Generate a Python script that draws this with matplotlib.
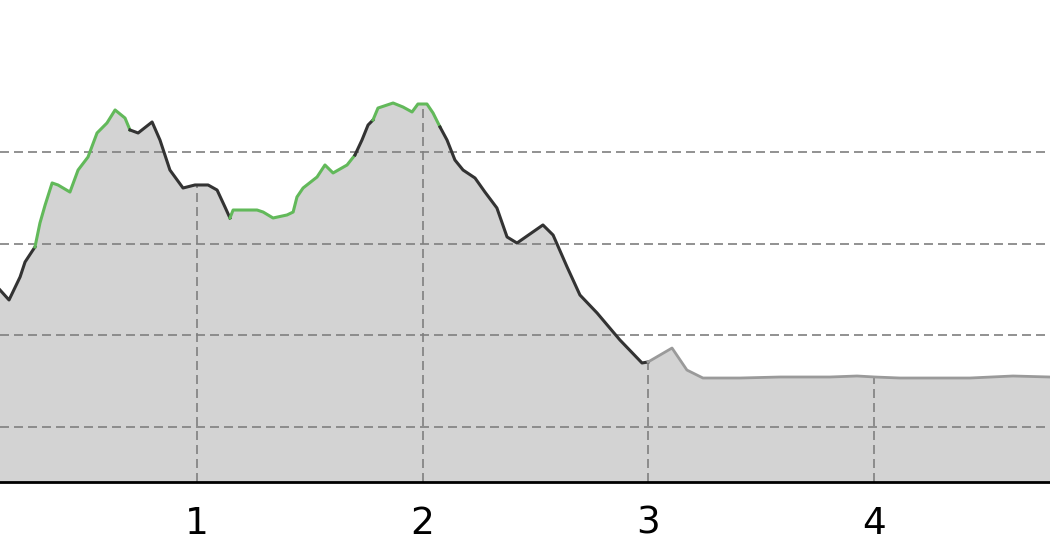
"""
Elevation profile: distance vs elevation, line coloured by segment type.
"""

import numpy as np
import matplotlib
matplotlib.use("Agg")
import matplotlib.pyplot as plt

# ── Data ──────────────────────────────────────────────────────────────────────

dist = [0.127, 0.167, 0.216, 0.238, 0.273, 0.282, 0.304, 0.327, 0.358, 0.384,
        0.437, 0.473, 0.517, 0.557, 0.601, 0.637, 0.681, 0.703, 0.739, 0.801,
        0.836, 0.880, 0.938, 0.991, 1.049, 1.089, 1.124, 1.146, 1.160, 1.266,
        1.293, 1.337, 1.399, 1.426, 1.443, 1.470, 1.532, 1.567, 1.603, 1.665,
        1.700, 1.731, 1.758, 1.780, 1.802, 1.869, 1.913, 1.953, 1.979, 2.019,
        2.046, 2.077, 2.108, 2.143, 2.179, 2.232, 2.276, 2.329, 2.374, 2.418,
        2.533, 2.578, 2.640, 2.697, 2.773, 2.874, 2.972, 2.999, 3.105, 3.171,
        3.242, 3.406, 3.584, 3.805, 3.925, 4.004, 4.115, 4.425, 4.616, 4.780]

elev = [349.4, 338.5, 363.6, 379.9, 393.0, 396.3, 422.4, 442.1, 466.1, 463.9,
        456.2, 480.2, 494.4, 520.6, 531.5, 545.7, 536.9, 523.9, 520.6, 532.6,
        512.9, 480.2, 460.6, 463.9, 463.9, 458.4, 439.9, 427.9, 436.6, 436.6,
        434.4, 427.9, 431.2, 434.4, 450.8, 460.6, 472.6, 485.7, 477.0, 485.7,
        496.6, 512.9, 529.3, 534.8, 547.8, 553.3, 548.9, 543.5, 552.2, 552.2,
        542.4, 527.1, 512.9, 491.1, 480.2, 471.5, 456.2, 438.8, 407.2, 400.6,
        420.3, 409.3, 374.5, 343.9, 324.3, 294.9, 269.8, 270.9, 286.1, 262.1,
        253.4, 253.4, 254.5, 254.5, 255.6, 254.5, 253.4, 253.4, 255.6, 254.5]

# segment boundaries (distance where each segment starts) and their type
seg_start = [0.127, 0.282, 0.703, 1.146, 1.700, 1.780, 2.077, 2.999]
seg_kind = ["road", "trail", "road", "trail", "road", "trail", "road", "flat"]

seg_colors = {"road": "#333333", "trail": "#62b95a", "flat": "#9a9a9a"}

x_ticks = [1, 2, 3, 4]
y_grid = [200, 300, 400, 500]

# ── Figure ────────────────────────────────────────────────────────────────────

def main():
    d = np.array(dist)
    e = np.array(elev)

    fig = plt.figure(figsize=(10.5, 5.6), dpi=100)
    ax = fig.add_axes([0, 78 / 560, 1, 482 / 560])

    ymin = 140
    ax.fill_between(d, ymin, e, color="#d3d3d3", linewidth=0, zorder=1)

    dash = (0, (5.4, 3.0))
    for yv in y_grid:
        ax.axhline(yv, color="#7f7f7f", linewidth=1.2, linestyle=dash, zorder=1.5)
    for xv in x_ticks:
        ax.vlines(xv, ymin, np.interp(xv, d, e), color="#7f7f7f",
                  linewidth=1.2, linestyles=[dash], zorder=1.5)

    bounds = seg_start + [d[-1]]
    for i, kind in enumerate(seg_kind):
        m = (d >= bounds[i] - 1e-9) & (d <= bounds[i + 1] + 1e-9)
        lw = 2.0 if kind == "flat" else 2.2
        ax.plot(d[m], e[m], color=seg_colors[kind], linewidth=lw,
                solid_joinstyle="round", zorder=3)

    ax.set_xlim(0.127, 4.78)
    ax.set_ylim(ymin, ymin + 482 * 1.0905)

    ax.set_xticks(x_ticks)
    ax.set_xticklabels([str(t) for t in x_ticks])
    ax.set_yticks([])
    ax.tick_params(axis="x", length=0, pad=17, labelsize=27)

    for side in ["left", "right", "top"]:
        ax.spines[side].set_visible(False)
    ax.spines["bottom"].set_color("black")
    ax.spines["bottom"].set_linewidth(2.0)
    ax.spines["bottom"].set_zorder(4)

    fig.savefig("out.png", dpi=100)
    plt.close(fig)


if __name__ == "__main__":
    main()
